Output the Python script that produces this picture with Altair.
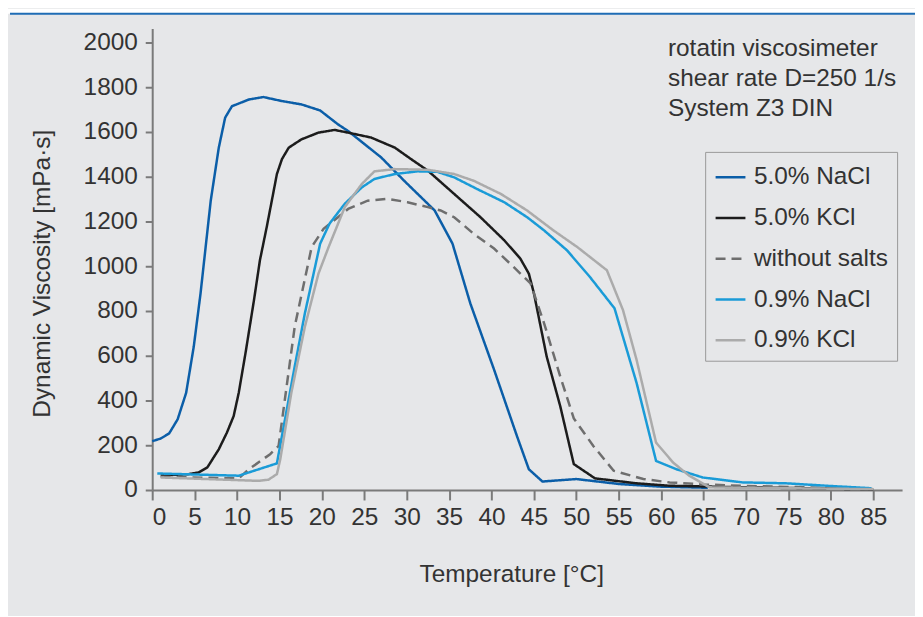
import altair as alt
import pandas as pd

FONT = "Liberation Sans"
FS = 24.5

series_names = ["5.0% NaCl", "5.0% KCl", "without salts", "0.9% NaCl", "0.9% KCl"]
series_colors = ["#0b5ea8", "#1c1c1c", "#6e6e6e", "#1a9bd7", "#ababab"]
series_dash = [[1, 0], [1, 0], [10, 6], [1, 0], [1, 0]]

nacl5_t = [0, 1, 2, 3, 4, 4.9, 5.7, 6.3, 6.9, 7.85, 8.6, 9.4, 11.4, 13.1, 15.3, 17.6, 19.8, 21.9,
           23.1, 27, 29.7, 33.3, 35.4, 37.5, 40.3, 43, 44.4, 46, 50, 55, 60, 65.5]
nacl5_v = [218, 230, 253, 316, 434, 641, 879, 1086, 1293, 1530, 1664, 1715, 1745, 1756, 1738, 1723, 1696, 1634,
           1604, 1486, 1382, 1249, 1101, 834, 538, 241, 93, 38, 49, 27, 15, 10]

kcl5_t = [1, 4.3, 5.5, 6.5, 7.85, 8.8, 9.6, 10.2, 11.0, 12.0, 12.7, 13.5, 14.1, 14.7, 15.3, 16.1, 17.6, 19.6,
          21.5, 23.1, 25.8, 28.6, 30.5, 32.5, 35.6, 38.7, 41.5, 43.4, 44.4, 45.0, 46.5, 48.1, 49.7,
          52.2, 57.1, 61, 65, 70, 75, 80, 85]
kcl5_v = [65, 71, 79, 101, 182, 256, 330, 434, 612, 849, 1027, 1175, 1293, 1412, 1479, 1530, 1567, 1597,
          1609, 1597, 1575, 1530, 1479, 1427, 1323, 1219, 1116, 1034, 967, 879, 597, 375, 116,
          52, 30, 19, 16, 12, 9, 6, 3]

nosalt_t = [1, 10.2, 11.4, 13.9, 14.9, 16.8, 18.8, 20.2, 21.9, 23.1, 25.4, 27.8, 30.1, 32.5, 34.0, 35.6,
            37.9, 40.3, 42.6, 44.6, 46.2, 48.1, 49.7, 52.0, 54.4, 57.9, 61.0, 65, 70, 75, 80, 85]
nosalt_v = [59, 52, 93, 160, 197, 730, 1086, 1167, 1219, 1256, 1293, 1301, 1286, 1264, 1249, 1219,
            1145, 1079, 997, 923, 745, 508, 320, 197, 86, 49, 34, 25, 18, 14, 9, 4]

nacl09_t = [0.6, 10.2, 14.7, 16.8, 18.0, 19.8, 20.9, 22.7, 24.7, 26.2, 28.6, 31.3, 33.6, 35.6, 38.3,
            41.5, 44.2, 46.2, 48.9, 51.6, 54.5, 57.1, 59.4, 61.8, 64.9, 69.6, 74.7, 80, 84.8]
nacl09_v = [74, 64, 119, 552, 790, 1101, 1190, 1279, 1352, 1390, 1412, 1424, 1422, 1397, 1345,
            1286, 1219, 1160, 1071, 952, 812, 479, 130, 93, 56, 34, 30, 18, 8]

kcl09_t = [1, 12.5, 13.7, 14.7, 15.1, 16.4, 18.0, 19.6, 20.8, 22.7, 24.7, 26.2, 28.6, 32.5, 35.6, 37.9,
           41.1, 44.2, 47.3, 50.1, 53.6, 55.5, 57.1, 59.4, 61.4, 63.3, 65.7, 70, 75, 80, 85]
kcl09_v = [56, 41, 46, 71, 138, 434, 730, 967, 1086, 1264, 1367, 1424, 1434, 1431, 1412, 1382,
           1323, 1249, 1160, 1086, 982, 804, 582, 212, 123, 64, 12, 10, 8, 6, 4]

x_ticks = list(range(0, 90, 5))
y_ticks = list(range(0, 2200, 200))

note_lines = ["rotatin viscosimeter", "shear rate D=250 1/s", "System Z3 DIN"]
note_x = [60.8, 60.8, 60.8]
note_y = [1938, 1804, 1671]

all_t = [nacl5_t, kcl5_t, nosalt_t, nacl09_t, kcl09_t]
all_v = [nacl5_v, kcl5_v, nosalt_v, nacl09_v, kcl09_v]

rows = []
for name, ts, vs in zip(series_names, all_t, all_v):
    for i, (t, v) in enumerate(zip(ts, vs)):
        rows.append({"series": name, "T": t, "V": v, "i": i})
df = pd.DataFrame(rows)

notes = pd.DataFrame({"text": note_lines, "T": note_x, "V": note_y})

xscale = alt.Scale(domain=[0, 88.4], nice=False, zero=False)
yscale = alt.Scale(domain=[0, 2062], nice=False, zero=False)

legend_cfg = dict(title=None, orient="none", legendX=556, legendY=124,
                  strokeColor="#999999", padding=9, symbolType="stroke",
                  symbolSize=900, symbolStrokeWidth=2.5, labelFontSize=FS,
                  labelFont=FONT, labelColor="#333333", rowPadding=13,
                  labelOffset=7, labelLimit=300)

lines = alt.Chart(df).mark_line(strokeWidth=2.5, clip=False).encode(
    x=alt.X("T:Q", scale=xscale,
            axis=alt.Axis(values=x_ticks, title="Temperature [°C]", titleX=361, titleY=85,
                          titleBaseline="middle", titleAnchor="start", titleAlign="center",
                          labelPadding=6, tickSize=10, format="d")),
    y=alt.Y("V:Q", scale=yscale,
            axis=alt.Axis(values=y_ticks, title="Dynamic Viscosity [mPa·s]", titleX=-110, titleY=246,
                          titleBaseline="middle", titleAlign="center", titleAnchor="start",
                          labelPadding=8, tickSize=7, format="d")),
    color=alt.Color("series:N", scale=alt.Scale(domain=series_names, range=series_colors),
                    legend=alt.Legend(**legend_cfg)),
    strokeDash=alt.StrokeDash("series:N", scale=alt.Scale(domain=series_names, range=series_dash),
                              legend=alt.Legend(**legend_cfg)),
    order="i:Q",
)

text = alt.Chart(notes).mark_text(align="left", baseline="alphabetic", fontSize=FS, font=FONT,
                                  color="#333333").encode(
    x=alt.X("T:Q", scale=xscale), y=alt.Y("V:Q", scale=yscale), text="text:N")

deco = alt.Data(values=[{"k": 1}])
white_strip = alt.Chart(deco).mark_rule(color="white", strokeWidth=5).encode(
    x=alt.value(-145), x2=alt.value(767), y=alt.value(-17.5))
blue_line = alt.Chart(deco).mark_rule(color="#1f6db5", strokeWidth=2).encode(
    x=alt.value(-143), x2=alt.value(767), y=alt.value(-15))

chart = alt.layer(white_strip, blue_line, lines, text).properties(
    width=754, height=464,
    autosize=alt.AutoSizeParams(type="none"),
    padding={"left": 145, "top": 19, "right": 13, "bottom": 125},
    background="#e6e7e9",
).configure_view(stroke=None).configure_axis(
    grid=False, domainColor="#7a7a7a", tickColor="#7a7a7a", domainWidth=2, tickWidth=2,
    labelFont=FONT, labelFontSize=FS, labelColor="#333333", titleFont=FONT, titleFontSize=FS,
    titleColor="#333333", titleFontWeight="normal",
)

chart.save("out.html", embed_options={"renderer": "svg", "actions": False})
